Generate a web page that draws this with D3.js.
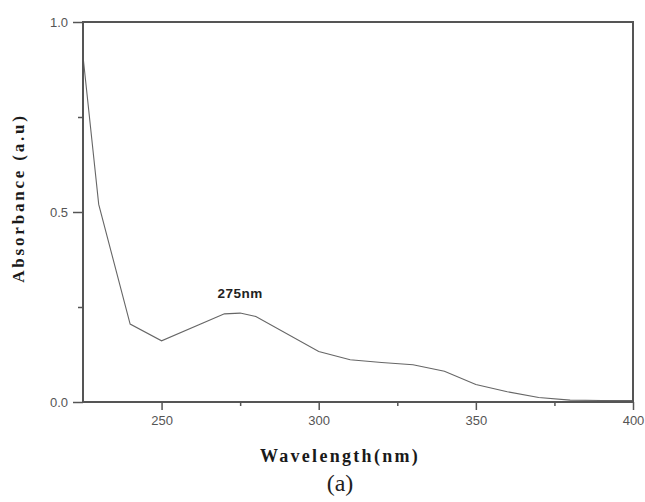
<!DOCTYPE html>
<html>
<head>
<meta charset="utf-8">
<script src="https://cdn.jsdelivr.net/npm/d3@7"></script>
<style>
  body { margin: 0; background: #fff; }
  .tick-label { font-family: "Liberation Sans", Arial, sans-serif; font-size: 13px; fill: #555; }
  .title { font-family: "Liberation Serif", "Times New Roman", serif; font-weight: bold; fill: #1a1a1a; }
</style>
</head>
<body>
<div id="chart"></div>
<script>
// ---------- DATA ----------
const wavelength = [225, 230, 240, 250, 270, 275, 280, 300, 310, 320, 330, 340, 350, 360, 370, 380, 390, 400];
const absorbance = [0.91, 0.52, 0.205, 0.161, 0.232, 0.234, 0.225, 0.133, 0.111, 0.104, 0.098, 0.081, 0.046, 0.027, 0.012, 0.005, 0.004, 0.004];
const xTicks = [250, 300, 350, 400];
const xMinor = [275, 325, 375];
const yTicks = [0.0, 0.5, 1.0];
const yMinor = [0.25, 0.75];
const peakLabel = "275nm";
const peakAt = [275, 0.275];

const width = 645;
const height = 502;
const axisColor = "#555";

const svg = d3
	.select("#chart")
	.append("svg")
	.attr("width", width)
	.attr("height", height);

const x = d3.scaleLinear().domain([225, 400]).range([83, 633]);
const y = d3.scaleLinear().domain([0, 1]).range([402, 22]);

// curve
const line = d3
	.line()
	.x((d, i) => x(wavelength[i]))
	.y((d) => y(d));

svg.append("path")
	.datum(absorbance)
	.attr("d", line)
	.attr("fill", "none")
	.attr("stroke", "#666")
	.attr("stroke-width", 1.1);

// frame
svg.append("rect")
	.attr("x", x(225))
	.attr("y", y(1))
	.attr("width", x(400) - x(225))
	.attr("height", y(0) - y(1))
	.attr("fill", "none")
	.attr("stroke", axisColor)
	.attr("stroke-width", 2);

// x axis
const xAxis = svg.append("g").attr("transform", `translate(0,${y(0)})`);
xAxis.call(d3.axisBottom(x).tickValues(xTicks).tickSize(8).tickPadding(6).tickFormat(d3.format("d")));
xAxis.append("g").call(d3.axisBottom(x).tickValues(xMinor).tickSize(4).tickFormat(""));
xAxis.selectAll(".domain").remove();
xAxis.selectAll("line").attr("stroke", axisColor).attr("stroke-width", 1.5);
xAxis.selectAll("text").attr("class", "tick-label").attr("font-size", null).attr("font-family", null).attr("fill", null);

// y axis
const yAxis = svg.append("g").attr("transform", `translate(${x(225)},0)`);
yAxis.call(d3.axisLeft(y).tickValues(yTicks).tickSize(10).tickPadding(5).tickFormat(d3.format(".1f")));
yAxis.append("g").call(d3.axisLeft(y).tickValues(yMinor).tickSize(5).tickFormat(""));
yAxis.selectAll(".domain").remove();
yAxis.selectAll("line").attr("stroke", axisColor).attr("stroke-width", 1.5);
yAxis.selectAll("text").attr("class", "tick-label").attr("font-size", null).attr("font-family", null).attr("fill", null);

// peak label
svg.append("text")
	.attr("x", x(peakAt[0]))
	.attr("y", y(peakAt[1]))
	.attr("text-anchor", "middle")
	.attr("font-family", "Liberation Sans, Arial, sans-serif")
	.attr("font-weight", "bold")
	.attr("font-size", 13.5)
	.attr("letter-spacing", 0.5)
	.attr("fill", "#222")
	.text(peakLabel);

// axis titles
svg.append("text")
	.attr("class", "title")
	.attr("x", 340)
	.attr("y", 462)
	.attr("text-anchor", "middle")
	.attr("font-size", 18)
	.attr("letter-spacing", 2.3)
	.text("Wavelength(nm)");

svg.append("text")
	.attr("class", "title")
	.attr("transform", "translate(24,198) rotate(-90)")
	.attr("text-anchor", "middle")
	.attr("font-size", 17)
	.attr("letter-spacing", 2.8)
	.text("Absorbance (a.u)");

svg.append("text")
	.attr("x", 340)
	.attr("y", 491)
	.attr("text-anchor", "middle")
	.attr("font-family", "Liberation Serif, Times New Roman, serif")
	.attr("font-size", 24)
	.attr("fill", "#222")
	.text("(a)");
</script>
</body>
</html>
